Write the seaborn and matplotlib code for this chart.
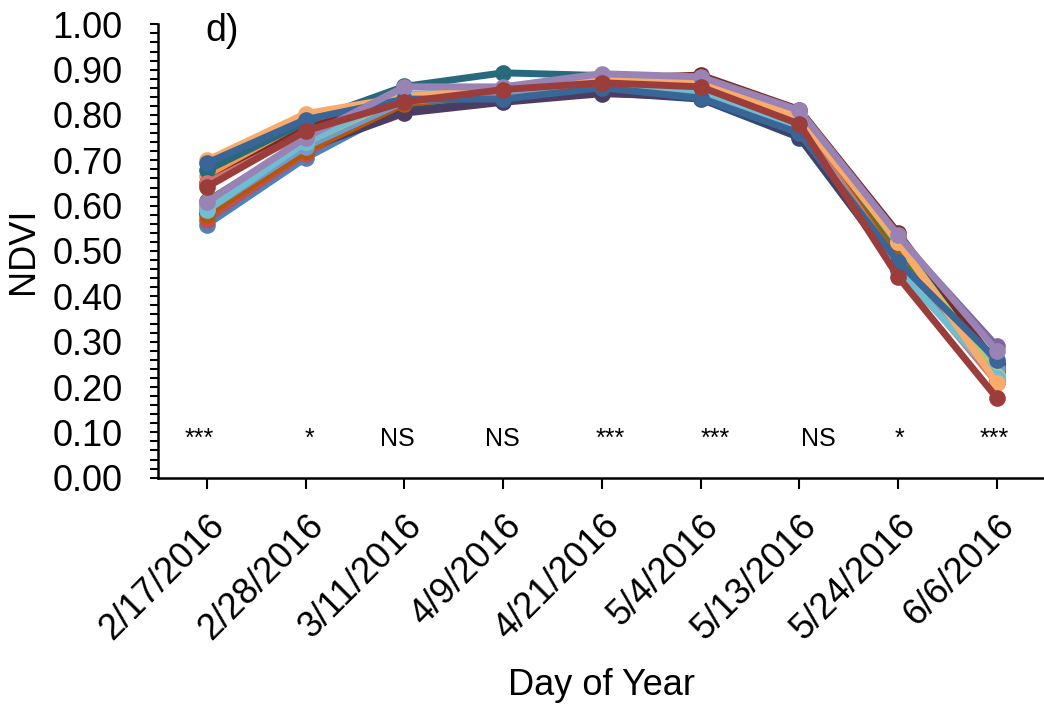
import matplotlib
matplotlib.use("Agg")
import matplotlib.pyplot as plt
import matplotlib.transforms as mtransforms
from matplotlib.ticker import MultipleLocator
import numpy as np
import pandas as pd
import seaborn as sns

# Sampling dates (x categories)
dates = ["2/17/2016", "2/28/2016", "3/11/2016", "4/9/2016", "4/21/2016",
         "5/4/2016", "5/13/2016", "5/24/2016", "6/6/2016"]

# Significance labels per date
sig_labels = ["***", "*", "NS", "NS", "***", "***", "NS", "*", "***"]
sig_x = [-0.08, 1.04, 1.93, 2.99, 4.08, 5.15, 6.19, 7.01, 7.97]

# NDVI per plot, one list per line
ndvi_p01 = [0.558, 0.705, 0.820, 0.840, 0.860, 0.845, 0.770, 0.470, 0.220]
ndvi_p02 = [0.569, 0.715, 0.830, 0.850, 0.870, 0.855, 0.775, 0.460, 0.253]
ndvi_p03 = [0.597, 0.740, 0.840, 0.855, 0.875, 0.870, 0.795, 0.500, 0.220]
ndvi_p04 = [0.600, 0.735, 0.835, 0.850, 0.870, 0.875, 0.800, 0.530, 0.290]
ndvi_p05 = [0.590, 0.745, 0.840, 0.850, 0.870, 0.850, 0.770, 0.455, 0.230]
ndvi_p06 = [0.665, 0.780, 0.835, 0.855, 0.875, 0.865, 0.790, 0.535, 0.230]
ndvi_p07 = [0.585, 0.725, 0.810, 0.830, 0.850, 0.835, 0.750, 0.460, 0.240]
ndvi_p08 = [0.650, 0.770, 0.840, 0.860, 0.880, 0.888, 0.812, 0.540, 0.250]
ndvi_p09 = [0.610, 0.745, 0.830, 0.845, 0.865, 0.860, 0.785, 0.490, 0.210]
ndvi_p10 = [0.585, 0.725, 0.804, 0.828, 0.847, 0.840, 0.755, 0.460, 0.240]
ndvi_p11 = [0.678, 0.785, 0.863, 0.893, 0.887, 0.860, 0.770, 0.470, 0.237]
ndvi_p12 = [0.580, 0.720, 0.825, 0.845, 0.865, 0.855, 0.780, 0.480, 0.215]
ndvi_p13 = [0.590, 0.730, 0.830, 0.845, 0.865, 0.850, 0.770, 0.465, 0.240]
ndvi_p14 = [0.650, 0.760, 0.835, 0.855, 0.870, 0.860, 0.785, 0.470, 0.210]
ndvi_p15 = [0.597, 0.740, 0.840, 0.860, 0.880, 0.875, 0.800, 0.520, 0.225]
ndvi_p16 = [0.590, 0.740, 0.845, 0.855, 0.870, 0.855, 0.775, 0.460, 0.220]
ndvi_p17 = [0.700, 0.803, 0.840, 0.860, 0.875, 0.870, 0.795, 0.520, 0.209]
ndvi_p18 = [0.694, 0.790, 0.835, 0.835, 0.860, 0.837, 0.760, 0.476, 0.260]
ndvi_p19 = [0.608, 0.750, 0.862, 0.862, 0.891, 0.884, 0.810, 0.535, 0.280]
ndvi_p20 = [0.641, 0.765, 0.829, 0.856, 0.871, 0.862, 0.780, 0.443, 0.176]

series = [ndvi_p01, ndvi_p02, ndvi_p03, ndvi_p04, ndvi_p05, ndvi_p06, ndvi_p07,
          ndvi_p08, ndvi_p09, ndvi_p10, ndvi_p11, ndvi_p12, ndvi_p13, ndvi_p14,
          ndvi_p15, ndvi_p16, ndvi_p17, ndvi_p18, ndvi_p19, ndvi_p20]
plot_names = [f"P{i + 1}" for i in range(len(series))]

colors = ["#4F81BD", "#C0504D", "#9BBB59", "#8064A2", "#4BACC6", "#F79646",
          "#2C4D75", "#772C2A", "#5F7530", "#4D3B62", "#276A7C", "#B65708",
          "#729ACA", "#CD7371", "#AFC97A", "#6FBDD1", "#F9AB6B", "#3A6597",
          "#9983B5", "#9B3D3A"]

rows = []
for name, vals in zip(plot_names, series):
    for i, v in enumerate(vals):
        rows.append({"plot": name, "pos": i, "ndvi": v})
df = pd.DataFrame(rows)

sns.set_theme(style="ticks")
plt.rcParams["font.family"] = ["Liberation Sans", "DejaVu Sans"]
plt.rcParams.update({"text.color": "black", "axes.labelcolor": "black",
                     "xtick.color": "black", "ytick.color": "black",
                     "axes.edgecolor": "black"})

fig = plt.figure(figsize=(10.44, 7.04), dpi=100)
ax = fig.add_axes([157.5 / 1044, (704 - 477.7) / 704, 888.75 / 1044, 453.4 / 704])

sns.lineplot(data=df, x="pos", y="ndvi", hue="plot", hue_order=plot_names,
             palette=colors, marker="o", markersize=12, markeredgewidth=0,
             linewidth=5, legend=False, ax=ax, sort=False,
             estimator=None)

ax.set_xlim(-0.5, 8.5)
ax.set_ylim(0, 1.0)
ax.set_xticks(range(len(dates)))
ax.set_xticklabels(dates, rotation=45, ha="right", rotation_mode="anchor",
                   fontsize=26)
shift = mtransforms.ScaledTranslation(-8 / 100, 0, fig.dpi_scale_trans)
for lab in ax.get_xticklabels():
    lab.set_transform(lab.get_transform() + shift)
yt = np.arange(0, 1.01, 0.1)
ax.set_yticks(yt)
ax.set_yticklabels([f"{t:.2f}" for t in yt], fontsize=26)
ax.yaxis.set_minor_locator(MultipleLocator(0.02))

ax.tick_params(axis="y", which="major", length=6, width=1.5, pad=19)
ax.tick_params(axis="y", which="minor", length=6, width=1.5)
ax.tick_params(axis="x", which="major", length=8, width=1.5, pad=14)

for side in ["top", "right"]:
    ax.spines[side].set_visible(False)
for side in ["left", "bottom"]:
    ax.spines[side].set_linewidth(1.8)

ax.set_xlabel("Day of Year", fontsize=26, labelpad=15)
ax.set_ylabel("NDVI", fontsize=26, labelpad=8)

for x, lab in zip(sig_x, sig_labels):
    ax.text(x, 0.07, lab, ha="center", va="baseline", fontsize=18)

ax.text(-0.02, 0.985, "d)", ha="left", va="center", fontsize=27)

fig.savefig("out.png", dpi=100)
